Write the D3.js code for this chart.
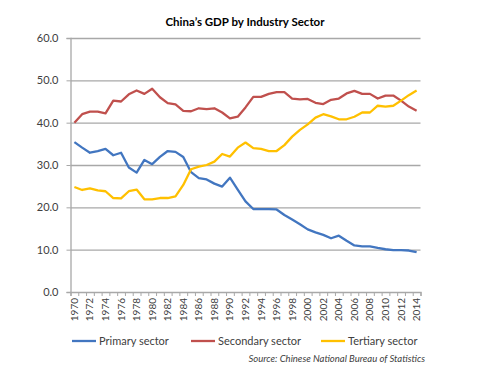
<!DOCTYPE html>
<html>
<head>
<meta charset="utf-8">
<script src="https://cdn.jsdelivr.net/npm/d3@7"></script>
<style>
  body { margin: 0; background: #fff; }
  svg { font-family: Lato, "Open Sans", sans-serif; }
</style>
</head>
<body>
<div id="chart"></div>
<script>
const width = 500, height = 380
const plot = {left: 70.5, right: 420.5, top: 38, bottom: 292}

// values, 1970 - 2014
const years = d3.range(1970, 2015)
const yTicks = [0, 10, 20, 30, 40, 50, 60]
const primary = [35.4, 34.1, 32.9, 33.3, 33.8, 32.3, 32.9, 29.4, 28.2, 31.2,
    30.2, 31.9, 33.3, 33.1, 31.9, 28.3, 26.9, 26.6, 25.6, 24.9,
    27.0, 24.2, 21.4, 19.6, 19.6, 19.6, 19.5, 18.2, 17.1, 16.0,
    14.8, 14.1, 13.5, 12.7, 13.3, 12.1, 11.0, 10.8, 10.8, 10.4,
    10.1, 9.9, 9.9, 9.8, 9.4]
const secondary = [40.0, 42.0, 42.6, 42.6, 42.2, 45.2, 45.0, 46.7, 47.6, 46.8,
    48.0, 46.0, 44.6, 44.3, 42.8, 42.7, 43.4, 43.2, 43.4, 42.4,
    41.0, 41.4, 43.6, 46.1, 46.1, 46.8, 47.2, 47.2, 45.7, 45.5,
    45.6, 44.7, 44.4, 45.4, 45.7, 46.9, 47.5, 46.8, 46.8, 45.7,
    46.4, 46.4, 45.2, 43.8, 42.8]
const tertiary = [24.8, 24.1, 24.5, 24.0, 23.8, 22.2, 22.1, 23.8, 24.2, 21.9,
    21.9, 22.2, 22.2, 22.6, 25.3, 29.0, 29.6, 30.0, 30.8, 32.6,
    32.0, 34.1, 35.3, 34.0, 33.8, 33.3, 33.3, 34.7, 36.7, 38.3,
    39.6, 41.2, 42.0, 41.5, 40.8, 40.8, 41.4, 42.4, 42.4, 44.0,
    43.8, 44.0, 45.2, 46.5, 47.6]
const seriesNames = ["Primary sector", "Secondary sector", "Tertiary sector"]
const seriesColors = ["#4276c0", "#c0504d", "#ffc000"]

const series = [primary, secondary, tertiary].map((vals, i) => ({
    name: seriesNames[i], color: seriesColors[i], values: vals
}))

const svg = d3.select("#chart").append("svg")
    .attr("width", width)
    .attr("height", height)

const x = d3.scaleBand().domain(years).range([plot.left, plot.right])
const xEdge = d3.scaleLinear().domain([0, years.length]).range([plot.left, plot.right])
const y = d3.scaleLinear().domain([0, 60]).range([plot.bottom, plot.top])

// title
svg.append("text")
    .attr("x", 245)
    .attr("y", 26)
    .attr("text-anchor", "middle")
    .style("font-weight", "bold")
    .style("font-size", "11.5px")
    .style("fill", "#000")
    .text("China\u2019s GDP by Industry Sector")

// gridlines
svg.append("g")
    .attr("transform", "translate(" + plot.left + ",0)")
    .call(d3.axisLeft(y).tickValues(yTicks.slice(1)).tickSize(-(plot.right - plot.left)).tickFormat(""))
    .call(g => g.select(".domain").remove())
    .call(g => g.selectAll("line").attr("stroke", "#a8a8a8").attr("stroke-width", 1.3))

// y axis
svg.append("g")
    .attr("transform", "translate(" + plot.left + ",0)")
    .call(d3.axisLeft(y).tickValues(yTicks).tickSize(4).tickPadding(8).tickFormat(d3.format(".1f")))
    .call(g => g.select(".domain").attr("stroke", "#a8a8a8").attr("stroke-width", 1.3))
    .call(g => g.selectAll("line").attr("stroke", "#a8a8a8"))
    .call(g => g.selectAll("text").style("font-size", "11px").style("fill", "#404040")
        .style("font-family", "Lato, sans-serif"))

// x axis: tick marks between categories
svg.append("g")
    .attr("transform", "translate(0," + plot.bottom + ")")
    .call(d3.axisBottom(xEdge).tickValues(d3.range(years.length + 1)).tickSize(4).tickFormat(""))
    .call(g => g.select(".domain").attr("stroke", "#a8a8a8").attr("stroke-width", 1.3))
    .call(g => g.selectAll("line").attr("stroke", "#a8a8a8"))

// x labels, every other year
svg.append("g")
    .selectAll("text")
    .data(years.filter(d => d % 2 === 0))
    .enter().append("text")
    .attr("transform", d => "translate(" + (x(d) + x.bandwidth() / 2 + 3.5) + "," + (plot.bottom + 6) + ") rotate(-90)")
    .attr("text-anchor", "end")
    .style("font-size", "10px")
    .style("fill", "#404040")
    .text(d => d)

// lines
const line = d3.line()
    .x((d, i) => x(years[i]) + x.bandwidth() / 2)
    .y(d => y(d))

svg.append("g")
    .selectAll("path")
    .data(series)
    .enter().append("path")
    .attr("d", d => line(d.values))
    .attr("fill", "none")
    .attr("stroke", d => d.color)
    .attr("stroke-width", 2.3)
    .attr("stroke-linejoin", "round")

// legend
const legendX = [72, 191, 321]
const legend = svg.append("g")
    .selectAll("g")
    .data(series)
    .enter().append("g")
    .attr("transform", (d, i) => "translate(" + legendX[i] + ",341)")
legend.append("line")
    .attr("x1", 0).attr("x2", 24)
    .attr("stroke", d => d.color)
    .attr("stroke-width", 2.3)
legend.append("text")
    .attr("x", 27)
    .attr("y", 4)
    .style("font-size", "11px")
    .style("fill", "#404040")
    .text(d => d.name)

// source
svg.append("text")
    .attr("x", 425)
    .attr("y", 362)
    .attr("text-anchor", "end")
    .style("font-size", "9.5px")
    .style("font-style", "italic")
    .style("fill", "#404040")
    .text("Source: Chinese National Bureau of Statistics")
</script>
</body>
</html>
